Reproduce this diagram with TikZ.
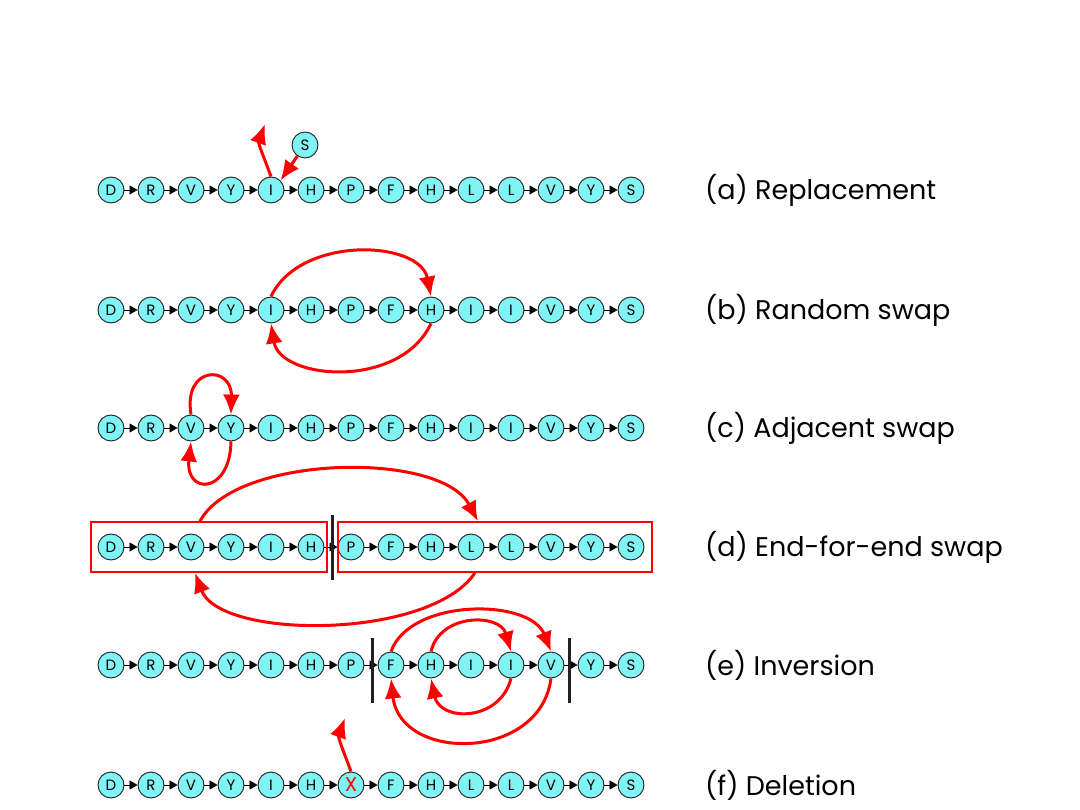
\documentclass[tikz,border=0pt]{standalone}
\usepackage{fontspec}
\setmainfont{Poppins}
\usepackage{xcolor}
\usepackage{tikz}
\usetikzlibrary{arrows.meta}
\definecolor{figcyan}{HTML}{80F4F4}
\definecolor{figred}{HTML}{FF0000}
\definecolor{figink}{HTML}{202020}
\tikzset{
  res/.style={circle,draw=figink,fill=figcyan,line width=0.9pt,minimum size=26pt,inner sep=0pt,font=\fontsize{15}{15}\selectfont},
  link/.style={line width=0.8pt,-{Triangle[length=8pt,width=9pt]}},
  move/.style={draw=figred,line width=3pt,-{Latex[length=20pt,width=17pt]}},
  cutbox/.style={draw=figred,line width=1.6pt,inner sep=0pt},
  cut/.style={line width=3pt,figink},
  lbl/.style={anchor=west,font=\fontsize{27}{27}\selectfont,inner sep=0pt}
}
% one row of residues, linked left to right
\newcommand{\seqrow}[3]{%
  \foreach \l [count=\i] in {#3} \node[res] (#1\i) at ({71+40*\i},#2) {\l};
  \foreach \i in {1,...,13} {\pgfmathtruncatemacro\j{\i+1}\draw[link] (#1\i) -- (#1\j);}
}

\begin{document}
\begin{tikzpicture}[x=1pt,y=-1pt]
    \useasboundingbox (0,0) rectangle (1080,810);

    % (a)
    \seqrow{a}{190}{D,R,V,Y,I,H,P,F,H,L,L,V,Y,S}
    \node[res] (s) at (305,145) {S};
    \coordinate (outa) at (265,124);
    \draw[move] (a5.north) to[out=110,in=-110] (outa);
    \draw[move] (s) -- (a5.north east);
    \node[lbl] (la) at (705,190) {(a) Replacement};

    % (b)
    \seqrow{b}{310}{D,R,V,Y,I,H,P,F,H,I,I,V,Y,S}
    \draw[move] (b5.north) .. controls (300,235) and (420,240) .. (b9.north);
    \draw[move] (b9.south) .. controls (400,390) and (280,380) .. (b5.south);
    \node[lbl] (lb) at (705,310) {(b) Random swap};

    % (c)
    \seqrow{c}{428}{D,R,V,Y,I,H,P,F,H,I,I,V,Y,S}
    \draw[move] (c3.north) .. controls (183,365) and (232,365) .. (c4.north);
    \draw[move] (c4.south) .. controls (230,495) and (185,495) .. (c3.south);
    \node[lbl] (lc) at (705,428) {(c) Adjacent swap};

    % (d)
    \seqrow{d}{547}{D,R,V,Y,I,H,P,F,H,L,L,V,Y,S}
    \node[cutbox,minimum width=236pt,minimum height=50pt] (boxl) at (209,547) {};
    \node[cutbox,minimum width=314pt,minimum height=50pt] (boxr) at (495,547) {};
    \draw[cut] (332,515) -- (332,580);
    \draw[move] ([xshift=-9pt]boxl.north) .. controls (235,455) and (440,450) .. ([xshift=-17pt]boxr.north);
    \draw[move] ([xshift=-20pt]boxr.south) .. controls (430,640) and (220,640) .. ([xshift=-14pt]boxl.south);
    \node[lbl] (ld) at (705,547) {(d) End-for-end swap};

    % (e)
    \seqrow{e}{665}{D,R,V,Y,I,H,P,F,H,I,I,V,Y,S}
    \draw[cut] (372,638) -- (372,703);
    \draw[cut] (569,638) -- (569,703);
    \draw[move] (e8.north) .. controls (410,598) and (530,598) .. (e12.north);
    \draw[move] (e9.north) .. controls (440,613) and (500,613) .. (e11.north);
    \draw[move] (e11.south) .. controls (500,722) and (440,722) .. (e9.south);
    \draw[move] (e12.south) .. controls (540,762) and (400,762) .. (e8.south);
    \node[lbl] (le) at (705,665) {(e) Inversion};

    % (f)
    \seqrow{f}{785}{D,R,V,Y,I,H,{\textcolor{figred}{\fontsize{20}{20}\selectfont X}},F,H,L,L,V,Y,S}
    \coordinate (outf) at (345,718);
    \draw[move] (f7.north) to[out=110,in=-110] (outf);
    \node[lbl] (lf) at (705,785) {(f) Deletion};
  \end{tikzpicture}
\end{document}
